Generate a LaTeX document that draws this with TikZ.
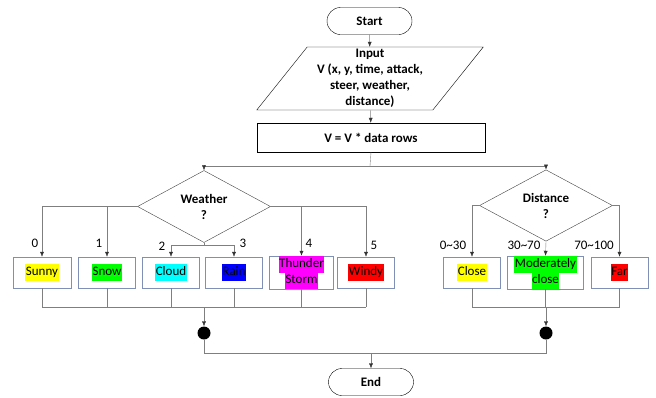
\documentclass[tikz,border=0pt]{standalone}
\usepackage{fontspec}
\setmainfont{Carlito}
\usepackage{tikz}
\usetikzlibrary{shapes.geometric}
\usetikzlibrary{arrows.meta}
\definecolor{linegray}{HTML}{7F7F7F}
\definecolor{boxblue}{HTML}{7F8FB5}
\definecolor{hlgreen}{HTML}{00FF00}
\definecolor{hlcyan}{HTML}{00FFFF}
\definecolor{hlblue}{HTML}{0000FF}
\definecolor{hlmagenta}{HTML}{FF00FF}
\definecolor{hlred}{HTML}{FF0000}
\definecolor{hlyellow}{HTML}{FFFF00}
\newcommand{\bodyfont}{\fontsize{13}{16}\selectfont}
\tikzstyle{terminal}=[draw, rounded corners=13.5pt, minimum width=85pt, minimum height=27pt, font=\bodyfont\bfseries]
\tikzstyle{io}=[draw, trapezium, trapezium left angle=54, trapezium right angle=126, trapezium stretches=true, minimum width=227pt, minimum height=63pt, inner sep=0pt, align=center, font=\bodyfont\bfseries]
\tikzstyle{process}=[draw, minimum width=228pt, minimum height=29pt, font=\bodyfont\bfseries]
\tikzstyle{decision}=[draw=black!75, diamond, minimum width=133pt, minimum height=51pt, inner sep=0pt, align=center, font=\bodyfont\bfseries]
\tikzstyle{choice}=[draw=boxblue, minimum height=31pt, inner sep=0pt, align=center, font=\bodyfont]
\tikzstyle{merge}=[circle, fill=black, minimum size=13pt, inner sep=0pt]
\tikzstyle{line}=[draw=linegray]
\tikzstyle{arrow}=[draw=linegray, -{Latex[length=5pt,width=4pt,color=black!80]}]
\newcommand{\hlbox}[2]{{\setlength{\fboxsep}{0.5pt}\colorbox{#1}{\strut #2}}}

\begin{document}
\begin{tikzpicture}[x=1pt, y=-1pt, font=\bodyfont]
      \useasboundingbox (0,0) rectangle (656,397);

      \node[terminal] (start) at (369.5,21) {Start};
      \node[io] (input) at (370,78.5) {Input\\V (x, y, time, attack,\\steer, weather,\\distance)};
      \node[process] (rows) at (371,137.5) {V = V * data rows};
      \coordinate (split) at (370,166);

      \node[decision] (weather) at (204,206.5) {Weather\\?};
      \node[decision] (distance) at (546,205.5) {Distance\\?};
      \coordinate (wsplit) at (204,245);

      \node[choice, minimum width=58pt] (sunny) at (42,272.5) {\hlbox{hlyellow}{Sunny}};
      \node[choice, minimum width=57pt] (snow) at (107,272.5) {\hlbox{hlgreen}{Snow}};
      \node[choice, minimum width=57pt] (cloud) at (171,272.5) {\hlbox{hlcyan}{Cloud}};
      \node[choice, minimum width=57pt] (rain) at (234,272.5) {\hlbox{hlblue}{Rain}};
      \node[choice, minimum width=64pt] (thunder) at (301.5,272.5) {\hlbox{hlmagenta}{Thunder}\\[-2pt]\hlbox{hlmagenta}{Storm}};
      \node[choice, minimum width=57pt] (windy) at (366,272.5) {\hlbox{hlred}{Windy}};
      \node[choice, minimum width=57pt] (close) at (472,272.5) {\hlbox{hlyellow}{Close}};
      \node[choice, minimum width=76pt] (modclose) at (545.5,272.5) {\hlbox{hlgreen}{Moderately}\\[-2pt]\hlbox{hlgreen}{close}};
      \node[choice, minimum width=57pt] (far) at (619.5,272.5) {\hlbox{hlred}{Far}};

      \node (w0) at (35,243) {0};
      \node (w1) at (99,243) {1};
      \node (w2) at (162,246) {2};
      \node (w3) at (243,243) {3};
      \node (w4) at (309,243) {4};
      \node (w5) at (374,245) {5};
      \node (d0) at (453,245) {0\textasciitilde30};
      \node (d1) at (524,245) {30\textasciitilde70};
      \node (d2) at (594,245) {70\textasciitilde100};

      \coordinate (wjoin) at (204,307);
      \coordinate (djoin) at (546,307);
      \node[merge] (wdot) at (204,333) {};
      \node[merge] (ddot) at (546,333) {};
      \coordinate (ejoin) at (371,353);
      \node[terminal] (end) at (371,382) {End};

      \draw[arrow] (start) -- (input);
      \draw[arrow] (input) -- (rows);
      \draw[line] (rows.south) -- (split);
      \draw[arrow] (split) -| (weather.north);
      \draw[arrow] (split) -| (distance.north);

      \foreach \m in {sunny, snow}{
        \draw[arrow] (weather.west) -| (\m.north);
      }
      \foreach \m in {thunder, windy}{
        \draw[arrow] (weather.east) -| (\m.north);
      }
      \draw[line] (weather.south) -- (wsplit);
      \foreach \m in {cloud, rain}{
        \draw[arrow] (wsplit) -| (\m.north);
      }
      \draw[arrow] (distance.west) -| (close.north);
      \draw[arrow] (distance.south) -- (modclose.north);
      \draw[arrow] (distance.east) -| (far.north);

      \foreach \m in {sunny, snow, cloud, rain, thunder, windy}{
        \draw[line] (\m.south) -- (\m.south |- wjoin);
      }
      \draw[line] (sunny.south |- wjoin) -- (windy.south |- wjoin);
      \foreach \m in {close, modclose, far}{
        \draw[line] (\m.south) -- (\m.south |- djoin);
      }
      \draw[line] (close.south |- djoin) -- (far.south |- djoin);
      \draw[arrow] (wjoin) -- (wdot);
      \draw[arrow] (djoin) -- (ddot);
      \draw[line] (wdot.south) |- (ddot.south |- ejoin) -- (ddot.south);
      \draw[arrow] (ejoin) -- (end);

    \end{tikzpicture}
\end{document}
